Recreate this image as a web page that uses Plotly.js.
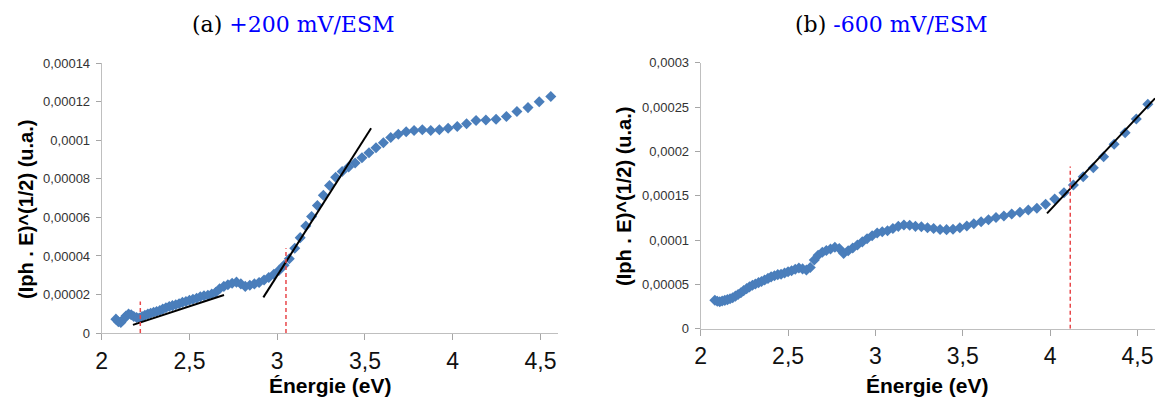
<!DOCTYPE html>
<html><head><meta charset="utf-8">
<script src="https://cdn.plot.ly/plotly-3.0.1.min.js"></script>
<style>html,body{margin:0;padding:0;background:#fff}#chart{width:1155px;height:398px}</style>
</head><body><div id="chart"></div>
<script>
// Photon energy (eV)
const energy = [2.081,2.095,2.109,2.123,2.138,2.153,2.168,2.183,2.199,2.214,2.230,2.246,2.263,2.279,2.296,2.313,2.331,2.348,2.366,2.385,2.403,2.422,2.441,2.460,2.480,2.500,2.520,2.541,2.562,2.583,2.605,2.627,2.650,2.672,2.696,2.719,2.743,2.768,2.793,2.818,2.844,2.870,2.897,2.925,2.952,2.981,3.010,3.039,3.069,3.100,3.131,3.163,3.196,3.229,3.263,3.298,3.333,3.370,3.407,3.444,3.483,3.523,3.563,3.605,3.647,3.690,3.735,3.780,3.827,3.875,3.924,3.974,4.026,4.079,4.133,4.189,4.247,4.306,4.366,4.429,4.493,4.559];
// (Iph . E)^(1/2) at +200 mV/ESM  (x 1e-5)
const valuesA = [0.72,0.58,0.55,0.70,0.88,0.98,0.95,0.86,0.80,0.78,0.85,0.92,0.98,1.03,1.08,1.12,1.17,1.24,1.31,1.38,1.42,1.47,1.52,1.59,1.64,1.70,1.75,1.80,1.88,1.93,1.96,2.02,2.12,2.30,2.42,2.50,2.58,2.64,2.55,2.42,2.48,2.55,2.62,2.75,2.88,3.05,3.25,3.52,3.85,4.40,4.95,5.55,6.05,6.62,7.15,7.66,8.08,8.38,8.62,8.82,9.10,9.36,9.62,9.88,10.15,10.32,10.45,10.51,10.55,10.51,10.55,10.63,10.72,10.86,11.03,11.06,11.10,11.24,11.50,11.70,12.00,12.28];
// (Iph . E)^(1/2) at -600 mV/ESM  (x 1e-5)
const valuesB = [3.22,3.10,3.05,3.12,3.20,3.28,3.38,3.50,3.68,3.85,4.05,4.30,4.52,4.72,4.90,5.05,5.20,5.32,5.50,5.68,5.85,5.98,6.10,6.15,6.28,6.42,6.55,6.70,6.85,6.75,6.62,6.90,7.75,8.30,8.62,8.82,9.00,9.20,9.05,8.50,8.80,9.10,9.45,9.80,10.15,10.50,10.80,10.95,11.05,11.30,11.55,11.70,11.68,11.55,11.50,11.40,11.30,11.20,11.18,11.22,11.40,11.60,11.85,12.08,12.30,12.55,12.72,12.95,13.14,13.40,13.59,14.05,14.64,15.35,16.22,17.16,18.17,19.41,20.81,22.12,23.67,25.33];
const unit = 1e-5;

const xTickVals = [2,2.5,3,3.5,4,4.5];
const xTickText = ['2','2,5','3','3,5','4','4,5'];
const yTickValsA = [0,0.00002,0.00004,0.00006,0.00008,0.0001,0.00012,0.00014];
const yTickTextA = ['0','0,00002','0,00004','0,00006','0,00008','0,0001','0,00012','0,00014'];
const yTickValsB = [0,0.00005,0.0001,0.00015,0.0002,0.00025,0.0003];
const yTickTextB = ['0','0,00005','0,0001','0,00015','0,0002','0,00025','0,0003'];

// tangent lines (endpoints)
const tanA1X = [2.178, 2.697], tanA1Y = [0.42e-5, 1.97e-5];
const tanA2X = [2.921, 3.535], tanA2Y = [1.85e-5, 10.63e-5];
const tanBX  = [3.982, 4.600], tanBY  = [13.02e-5, 26.0e-5];
// band-gap markers (dashed red)
const gapAX = [2.22, 3.05], gapATop = [1.63e-5, 4.4e-5];
const gapBX = [4.115], gapBTop = [18.3e-5];

const titleA = ['(a) ', '+200 mV/ESM'];
const titleB = ['(b) ', '-600 mV/ESM'];
const xTitle = 'Énergie (eV)';
const yTitle = '(Iph . E)^(1/2) (u.a.)';

const blueMk = '#4a7ebb';
const yA = valuesA.map(v => v * unit);
const yB = valuesB.map(v => v * unit);

function gapTrace(xs, tops, xa, ya) {
  const x = [], y = [];
  xs.forEach((g, i) => { x.push(g, g, null); y.push(0, tops[i], null); });
  return {x, y, xaxis: xa, yaxis: ya, mode: 'lines', line: {color: '#e8474a', width: 1.5, dash: '4px,3px'}, hoverinfo: 'skip', showlegend: false};
}
function tanTrace(xs, ys, xa, ya) {
  return {x: xs, y: ys, xaxis: xa, yaxis: ya, mode: 'lines', line: {color: '#000', width: 2}, hoverinfo: 'skip', showlegend: false};
}

const data = [
  {x: energy, y: yA, mode: 'markers', marker: {symbol: 'diamond', size: 8.5, color: blueMk}, showlegend: false},
  tanTrace(tanA1X, tanA1Y, 'x', 'y'),
  tanTrace(tanA2X, tanA2Y, 'x', 'y'),
  gapTrace(gapAX, gapATop, 'x', 'y'),
  {x: energy, y: yB, xaxis: 'x2', yaxis: 'y2', mode: 'markers', marker: {symbol: 'diamond', size: 8.5, color: blueMk}, showlegend: false},
  tanTrace(tanBX, tanBY, 'x2', 'y2'),
  gapTrace(gapBX, gapBTop, 'x2', 'y2')
];

const W = 1155, H = 398;
const px = v => v / W, py = v => (H - v) / H;

const xCommon = {
  range: [2, 4.6], tickvals: xTickVals, ticktext: xTickText, ticks: 'outside', ticklen: 6, tickcolor: '#a6a6a6',
  showline: true, linecolor: '#bfbfbf', linewidth: 1, showgrid: false, zeroline: false,
  tickfont: {family: 'Liberation Sans, Arial, sans-serif', size: 23, color: '#111'}, ticklabelstandoff: 1
};
const yCommon = {
  ticks: 'outside', ticklen: 5, tickcolor: '#a6a6a6', showline: true, linecolor: '#bfbfbf', linewidth: 1,
  showgrid: false, zeroline: false, tickfont: {family: 'Liberation Sans, Arial, sans-serif', size: 13, color: '#333'}, ticklabelstandoff: 3
};

const layout = {
  width: W, height: H, margin: {l: 0, r: 0, t: 0, b: 0}, paper_bgcolor: '#fff', plot_bgcolor: '#fff',
  xaxis: Object.assign({}, xCommon, {domain: [px(101.7), px(558)], anchor: 'y'}),
  yaxis: Object.assign({}, yCommon, {domain: [py(333), py(63.3)], range: [0, 0.00014], tickvals: yTickValsA, ticktext: yTickTextA, anchor: 'x'}),
  xaxis2: Object.assign({}, xCommon, {domain: [px(700.7), 1], anchor: 'y2'}),
  yaxis2: Object.assign({}, yCommon, {domain: [py(328.7), py(62.9)], range: [0, 0.0003], tickvals: yTickValsB, ticktext: yTickTextB, anchor: 'x2'}),
  annotations: [
    {xref: 'paper', yref: 'paper', x: px(294), y: py(24), xanchor: 'center', yanchor: 'middle', showarrow: false,
     text: titleA[0] + '<span style="color:#0000ff">' + titleA[1] + '</span>', font: {family: 'DejaVu Serif, serif', size: 22, color: '#000'}},
    {xref: 'paper', yref: 'paper', x: px(891), y: py(24), xanchor: 'center', yanchor: 'middle', showarrow: false,
     text: titleB[0] + '<span style="color:#0000ff">' + titleB[1] + '</span>', font: {family: 'DejaVu Serif, serif', size: 22, color: '#000'}},
    {xref: 'paper', yref: 'paper', x: px(330), y: 0, xanchor: 'center', yanchor: 'bottom', showarrow: false, borderpad: 0,
     text: '<b>' + xTitle + '</b>', font: {family: 'Liberation Sans, Arial, sans-serif', size: 21, color: '#000'}},
    {xref: 'paper', yref: 'paper', x: px(927), y: 0, xanchor: 'center', yanchor: 'bottom', showarrow: false, borderpad: 0,
     text: '<b>' + xTitle + '</b>', font: {family: 'Liberation Sans, Arial, sans-serif', size: 21, color: '#000'}},
    {xref: 'paper', yref: 'paper', x: px(26), y: py(210), xanchor: 'center', yanchor: 'middle', showarrow: false, textangle: -90,
     text: '<b>' + yTitle + '</b>', font: {family: 'Liberation Sans, Arial, sans-serif', size: 20, color: '#000'}},
    {xref: 'paper', yref: 'paper', x: px(624), y: py(197), xanchor: 'center', yanchor: 'middle', showarrow: false, textangle: -90,
     text: '<b>' + yTitle + '</b>', font: {family: 'Liberation Sans, Arial, sans-serif', size: 20, color: '#000'}}
  ]
};

Plotly.newPlot('chart', data, layout, {staticPlot: true, displayModeBar: false});
</script>
</body></html>
